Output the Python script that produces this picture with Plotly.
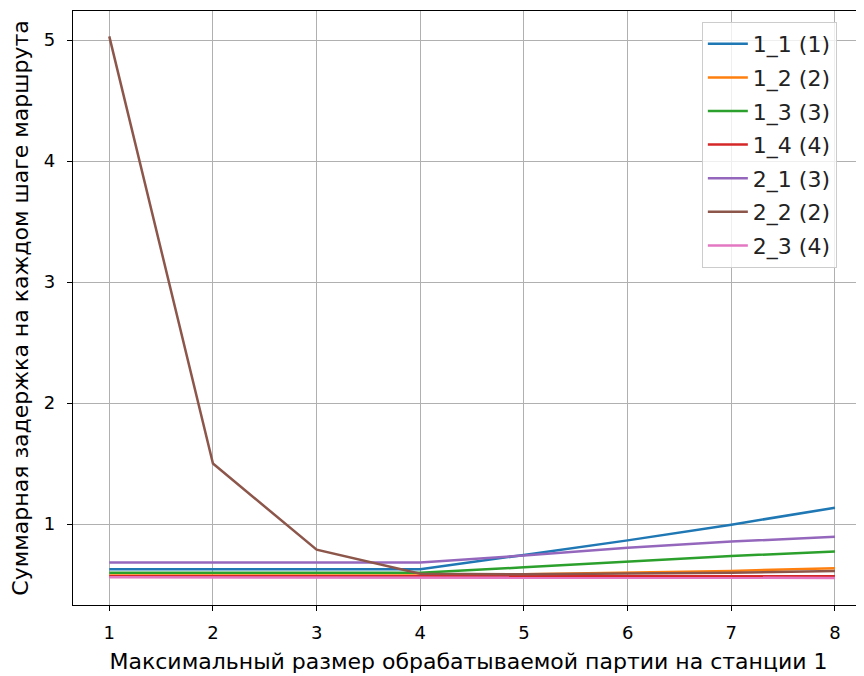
import plotly.graph_objects as go

x_vals = [1, 2, 3, 4, 5, 6, 7, 8]
names = ["1_1 (1)", "1_2 (2)", "1_3 (3)", "1_4 (4)", "2_1 (3)", "2_2 (2)", "2_3 (4)"]
s1_1 = [0.626, 0.626, 0.626, 0.626, 0.745, 0.865, 0.995, 1.135]
s1_2 = [0.575, 0.575, 0.575, 0.575, 0.585, 0.598, 0.613, 0.635]
s1_3 = [0.598, 0.598, 0.598, 0.598, 0.642, 0.692, 0.736, 0.774]
s1_4 = [0.568, 0.568, 0.568, 0.568, 0.568, 0.568, 0.568, 0.568]
s2_1 = [0.683, 0.683, 0.683, 0.683, 0.740, 0.805, 0.855, 0.895]
s2_2 = [5.03, 1.50, 0.788, 0.59, 0.585, 0.59, 0.598, 0.612]
s2_3 = [0.56, 0.56, 0.56, 0.56, 0.558, 0.557, 0.556, 0.555]
series = [s1_1, s1_2, s1_3, s1_4, s2_1, s2_2, s2_3]
colors = ["#1f77b4", "#ff7f0e", "#2ca02c", "#d62728", "#9467bd", "#8c564b", "#e377c2"]

x_title = "Максимальный размер обрабатываемой партии на станции 1"
y_title = "Суммарная задержка на каждом шаге маршрута"

fig = go.Figure()
for i, (n, s, c) in enumerate(zip(names, series, colors)):
    fig.add_trace(go.Scatter(x=x_vals, y=s, name=n, mode="lines",
                             line=dict(color=c, width=2.5), legendgroup=str(i)))

font = "DejaVu Sans, sans-serif"
fig.update_layout(
    width=864, height=676,
    margin=dict(l=65, r=8, t=3, b=79, autoexpand=False),
    plot_bgcolor="white", paper_bgcolor="white",
    font=dict(family=font, size=18, color="black"),
    showlegend=True,
    legend=dict(x=0.795, y=0.9815, xanchor="left", yanchor="top",
                bgcolor="rgba(255,255,255,0.8)", bordercolor="#cccccc", borderwidth=1,
                font=dict(family=font, size=22, color="#222"), tracegroupgap=2,
                itemwidth=40),
    xaxis=dict(range=[0.65, 8.28], tickvals=x_vals, ticktext=[str(v) for v in x_vals],
               showgrid=True, gridcolor="#b0b0b0", gridwidth=1, automargin=False,
               showline=True, linecolor="black", linewidth=1.2, mirror=True,
               ticks="outside", ticklen=5, tickcolor="black", zeroline=False,
               ticklabelstandoff=6, tickfont=dict(size=18),
               title=dict(text=x_title, font=dict(size=22), standoff=11)),
    yaxis=dict(range=[0.331, 5.24], tickvals=[1, 2, 3, 4, 5],
               showgrid=True, gridcolor="#b0b0b0", gridwidth=1, automargin=False,
               showline=True, linecolor="black", linewidth=1.2,
               ticks="outside", ticklen=5, tickcolor="black", zeroline=False,
               ticklabelstandoff=8, tickfont=dict(size=18),
               title=dict(text=y_title, font=dict(size=22), standoff=10)),
)
fig.write_html("out.html")
